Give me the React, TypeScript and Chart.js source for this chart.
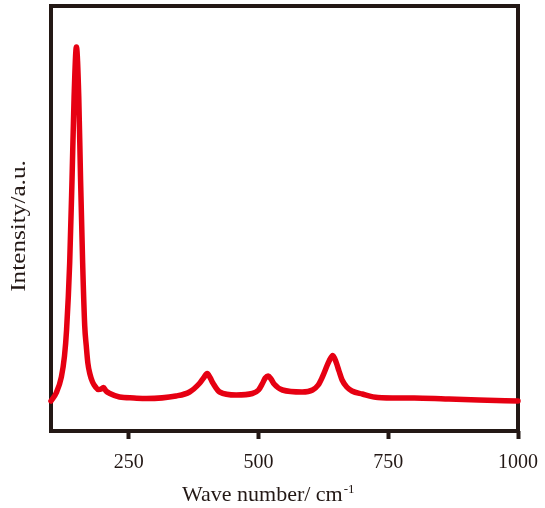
import React, { useEffect, useRef } from "react";
import { Chart, registerables } from "chart.js";

Chart.register(...registerables);

const WAVENUMBER = [
  100, 110, 120, 126, 130, 136, 140.5, 144.5, 149, 153.5, 157, 161, 165, 168, 171,
  175, 180, 186, 191, 197, 201, 206, 213.5, 232, 260, 284, 341, 367, 386, 394,
  401, 407, 412, 425, 457, 488, 500, 508, 513, 518.5, 524, 530, 546, 584, 604,
  615, 623, 636, 643, 650, 655, 661, 670, 680, 700, 730, 770, 800, 860, 924, 1000,
];
const INTENSITY = [
  30, 38, 54, 75, 101, 168, 251, 334, 384, 334, 251, 168, 105, 85, 68,
  57, 49, 44, 41.5, 42, 43.5, 40, 37.5, 34, 33, 32.5, 35, 39, 47.5, 53,
  57.5, 53, 48, 39, 36, 37.5, 41, 48, 53, 55, 52, 47, 41, 39, 41,
  46, 54, 70, 75.5, 68, 60, 51, 44, 40, 37, 33.5, 33, 33, 32, 31, 30,
];
const X_TICKS = [250, 500, 750, 1000];
const X_MIN = 100;
const X_MAX = 1000;
const Y_MIN = 0;
const Y_MAX = 425;
const X_TITLE = "Wave number/ cm";
const X_TITLE_SUP = "-1";
const Y_TITLE = "Intensity/a.u.";

const INK = "#231815";
const RED = "#e60012";
const SERIF = "'Liberation Serif', 'Times New Roman', serif";

const framePlugin = {
  id: "frame",
  beforeDatasetsDraw(chart: any) {
    const { ctx, chartArea } = chart;
    ctx.save();
    ctx.strokeStyle = INK;
    ctx.lineWidth = 4;
    ctx.lineJoin = "miter";
    ctx.strokeRect(
      chartArea.left,
      chartArea.top,
      chartArea.right - chartArea.left,
      chartArea.bottom - chartArea.top
    );
    ctx.restore();
  },
  afterDraw(chart: any) {
    const { ctx } = chart;
    ctx.save();
    ctx.fillStyle = INK;
    // y title (rotated)
    ctx.save();
    ctx.translate(19, 226);
    ctx.rotate(-Math.PI / 2);
    ctx.scale(1.2, 1);
    ctx.font = `21px ${SERIF}`;
    ctx.textAlign = "center";
    ctx.textBaseline = "middle";
    ctx.fillText(Y_TITLE, 0, 0);
    ctx.restore();
    // x title with superscript
    ctx.font = `22px ${SERIF}`;
    ctx.textAlign = "left";
    ctx.textBaseline = "alphabetic";
    const x0 = 182;
    const y0 = 501;
    ctx.fillText(X_TITLE, x0, y0);
    const w = ctx.measureText(X_TITLE).width;
    ctx.font = `13px ${SERIF}`;
    ctx.fillText(X_TITLE_SUP, x0 + w + 1, y0 - 8);
    ctx.restore();
  },
};

export default function App() {
  const ref = useRef<HTMLCanvasElement | null>(null);

  useEffect(() => {
    if (!ref.current) return;
    const data = WAVENUMBER.map((x, i) => ({ x, y: INTENSITY[i] }));
    const chart = new Chart(ref.current, {
      type: "line",
      data: {
        datasets: [
          {
            data,
            borderColor: RED,
            borderWidth: 5.5,
            pointRadius: 0,
            fill: false,
            cubicInterpolationMode: "monotone",
            borderCapStyle: "round",
            borderJoinStyle: "round",
            clip: 8,
          } as any,
        ],
      },
      options: {
        animation: false,
        responsive: false,
        layout: { padding: { left: 51, right: 27, top: 6, bottom: 0 } },
        plugins: {
          legend: { display: false },
          tooltip: { enabled: false },
        },
        scales: {
          x: {
            type: "linear",
            min: X_MIN,
            max: X_MAX,
            afterBuildTicks: (scale: any) => {
              scale.ticks = X_TICKS.map((v) => ({ value: v }));
            },
            afterFit: (scale: any) => {
              scale.height = 77;
              scale.paddingLeft = 0;
              scale.paddingRight = 0;
            },
            border: { display: false },
            grid: {
              drawOnChartArea: false,
              drawTicks: true,
              tickLength: 8,
              tickWidth: 4,
              tickColor: INK,
            },
            ticks: {
              padding: 12,
              color: INK,
              font: { family: SERIF, size: 20 },
              maxRotation: 0,
              autoSkip: false,
              callback: (v: any) => String(v),
            },
          },
          y: {
            display: false,
            min: Y_MIN,
            max: Y_MAX,
          },
        },
      },
      plugins: [framePlugin],
    });
    return () => chart.destroy();
  }, []);

  return (
    <div style={{ position: "fixed", left: 0, top: 0, width: 545, height: 508, background: "#fff" }}>
      <canvas ref={ref} width={545} height={508} />
    </div>
  );
}
